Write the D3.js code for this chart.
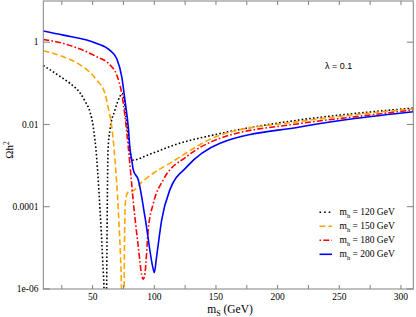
<!DOCTYPE html>
<html>
<head>
<meta charset="utf-8">
<script src="https://d3js.org/d3.v7.min.js"></script>
<style>
  body { margin: 0; background: #fff; }
  .tick-label { font-family: "Liberation Serif", "DejaVu Serif", serif; font-size: 9.5px; fill: #000; }
  .frame { fill: none; stroke: #808080; stroke-width: 1; }
  .tick { stroke: #808080; stroke-width: 1; }
  .curve { fill: none; stroke-width: 1.6; }
</style>
</head>
<body>
<svg id="chart" width="416" height="317"></svg>
<script>
// m_S (GeV) and Omega h^2, one pair of arrays per Higgs mass
var ms120 = [10, 26.2, 31.6, 39.8, 44, 47.9, 50.5, 53.3, 56, 58, 59.5, 60.5, 61.2, 61.6, 62, 62.5, 64, 68, 72, 73.8, 75.5, 77, 79, 80.5, 81.7, 96.7, 116.8, 153.3, 218, 264, 310];
var om120 = [0.27, 0.13, 0.1, 0.058, 0.036, 0.02, 0.0088, 0.0015, 8.3e-5, 6e-6, 5e-7, 1e-8, 3e-7, 1e-5, 2.5e-4, 0.0024, 0.0072, 0.022, 0.047, 0.057, 0.04, 0.016, 0.005, 0.0022, 0.00135, 0.0019, 0.0032, 0.006, 0.0129, 0.0186, 0.025];

var ms150 = [10, 26.2, 39.8, 53.3, 60, 62.7, 65.5, 68.1, 70.8, 73, 74.5, 75.4, 75.8, 76.5, 78, 80, 81.7, 90, 99.2, 112.7, 153.3, 218, 264, 310];
var om150 = [0.62, 0.44, 0.28, 0.12, 0.056, 0.025, 0.0087, 0.0014, 8.3e-5, 3e-6, 1e-7, 1e-7, 1e-5, 1.2e-4, 2.1e-4, 2.4e-4, 2.35e-4, 4e-4, 6.5e-4, 0.00115, 0.0055, 0.0118, 0.0174, 0.024];

var ms180 = [10, 26.2, 53.3, 64.1, 69.5, 73.6, 76.2, 78.9, 81, 83, 85, 87, 89.8, 91, 92.5, 95.1, 99.2, 107.3, 126.3, 153.3, 218, 264, 310];
var om180 = [1.16, 0.93, 0.44, 0.28, 0.16, 0.056, 0.016, 0.0028, 6e-4, 1.3e-4, 3.5e-5, 1.07e-5, 2.2e-6, 1.7e-6, 2.5e-6, 2.8e-5, 1.2e-4, 4.5e-4, 0.00166, 0.0046, 0.0105, 0.0155, 0.0224];

var ms200 = [10, 26.2, 53.3, 64.1, 69.5, 73.6, 76.2, 78.9, 80.3, 81.7, 83, 87, 92.5, 99.2, 100, 101.9, 106, 112.7, 126.3, 153.3, 218, 264, 310];
var om200 = [1.87, 1.48, 0.93, 0.63, 0.4, 0.145, 0.039, 0.0087, 0.0025, 0.00138, 7.8e-4, 4.5e-4, 5.5e-5, 3e-6, 2.5e-6, 6.2e-6, 4.8e-5, 2.6e-4, 9.3e-4, 0.0035, 0.0087, 0.0141, 0.0204];

var seriesNames = ["120", "150", "180", "200"];
var seriesColors = ["#000000", "#ffa500", "#ff0000", "#0000ff"];
var seriesDash = ["1.6,2.2", "6,3", "6,2.2,1.6,2.2", null];

var xTicks = [50, 100, 150, 200, 250, 300];
var xMinor = [25, 75, 125, 175, 225, 275];
var yTicks = [1, 0.01, 0.0001, 1e-6];
var yTickLabels = ["1", "0.01", "0.0001", "1e-06"];

var svg = d3.select("#chart");

var x = d3.scaleLinear().domain([10, 310]).range([43.3, 413.3]);
var y = d3.scaleLog().domain([1e-6, 10]).range([289, 1]);

svg.append("clipPath").attr("id", "clip")
  .append("rect")
  .attr("x", x.range()[0]).attr("y", y.range()[1])
  .attr("width", x.range()[1] - x.range()[0])
  .attr("height", y.range()[0] - y.range()[1]);

var series = [
  { xs: ms120, ys: om120 },
  { xs: ms150, ys: om150 },
  { xs: ms180, ys: om180 },
  { xs: ms200, ys: om200 }
];

var line = d3.line()
  .x(function(d) { return x(d[0]); })
  .y(function(d) { return y(d[1]); })
  .curve(d3.curveMonotoneX);

var plot = svg.append("g").attr("clip-path", "url(#clip)");
series.forEach(function(s, i) {
  var pts = s.xs.map(function(v, j) { return [v, s.ys[j]]; });
  plot.append("path")
    .datum(pts)
    .attr("class", "curve")
    .attr("d", line)
    .attr("stroke", seriesColors[i])
    .attr("stroke-dasharray", seriesDash[i]);
});

// frame
svg.append("rect").attr("class", "frame")
  .attr("x", x.range()[0]).attr("y", y.range()[1])
  .attr("width", x.range()[1] - x.range()[0])
  .attr("height", y.range()[0] - y.range()[1]);

// x ticks, inward, bottom and top
var x0 = y.range()[0], x1 = y.range()[1];
xTicks.concat(xMinor).forEach(function(t) {
  svg.append("line").attr("class", "tick")
    .attr("x1", x(t)).attr("x2", x(t)).attr("y1", x0).attr("y2", x0 - 4);
  svg.append("line").attr("class", "tick")
    .attr("x1", x(t)).attr("x2", x(t)).attr("y1", x1).attr("y2", x1 + 4);
});
xTicks.forEach(function(t) {
  svg.append("text").attr("class", "tick-label")
    .attr("x", x(t)).attr("y", 300)
    .attr("text-anchor", "middle").text(t);
});

// y ticks
yTicks.forEach(function(t, i) {
  svg.append("line").attr("class", "tick")
    .attr("x1", x.range()[0]).attr("x2", x.range()[0] + 6.5).attr("y1", y(t)).attr("y2", y(t));
  svg.append("line").attr("class", "tick")
    .attr("x1", x.range()[1]).attr("x2", x.range()[1] - 6.5).attr("y1", y(t)).attr("y2", y(t));
  svg.append("text").attr("class", "tick-label")
    .attr("x", 38.5).attr("y", y(t) + 3.3)
    .attr("text-anchor", "end").text(yTickLabels[i]);
});

// axis titles
var xt = svg.append("text")
  .attr("x", 230).attr("y", 312.5)
  .attr("text-anchor", "middle")
  .style("font-family", "Liberation Serif, serif").style("font-size", "11.5px");
xt.append("tspan").text("m");
xt.append("tspan").attr("dy", 3).style("font-size", "8px").text("S");
xt.append("tspan").attr("dy", -3).text(" (GeV)");

var yt = svg.append("text")
  .attr("transform", "translate(13,150) rotate(-90)")
  .attr("text-anchor", "middle")
  .style("font-family", "Liberation Serif, serif").style("font-size", "11px");
yt.append("tspan").text("\u03A9h");
yt.append("tspan").attr("dy", -4).style("font-size", "7.5px").text("2");

svg.append("text")
  .attr("x", 325).attr("y", 68.5)
  .style("font-family", "Liberation Sans, Arial, sans-serif").style("font-size", "9px")
  .text("\u03BB = 0.1");

// legend
var legendY = [212.3, 226.2, 240.2, 254.3];
seriesNames.forEach(function(n, i) {
  svg.append("line")
    .attr("x1", 319.5).attr("x2", 332).attr("y1", legendY[i]).attr("y2", legendY[i])
    .attr("stroke", seriesColors[i]).attr("stroke-width", 1.6)
    .attr("stroke-dasharray", i == 2 ? "1.6,2.2,6,2.2" : (i == 0 ? "1.6,3" : seriesDash[i]));
  var t = svg.append("text")
    .attr("x", 339.5).attr("y", legendY[i] + 3)
    .style("font-family", "Liberation Serif, serif").style("font-size", "9.5px");
  t.append("tspan").text("m");
  t.append("tspan").attr("dy", 2.5).style("font-size", "6.5px").text("h");
  t.append("tspan").attr("dy", -2.5).text(" = " + n + " GeV");
});
</script>
</body>
</html>
